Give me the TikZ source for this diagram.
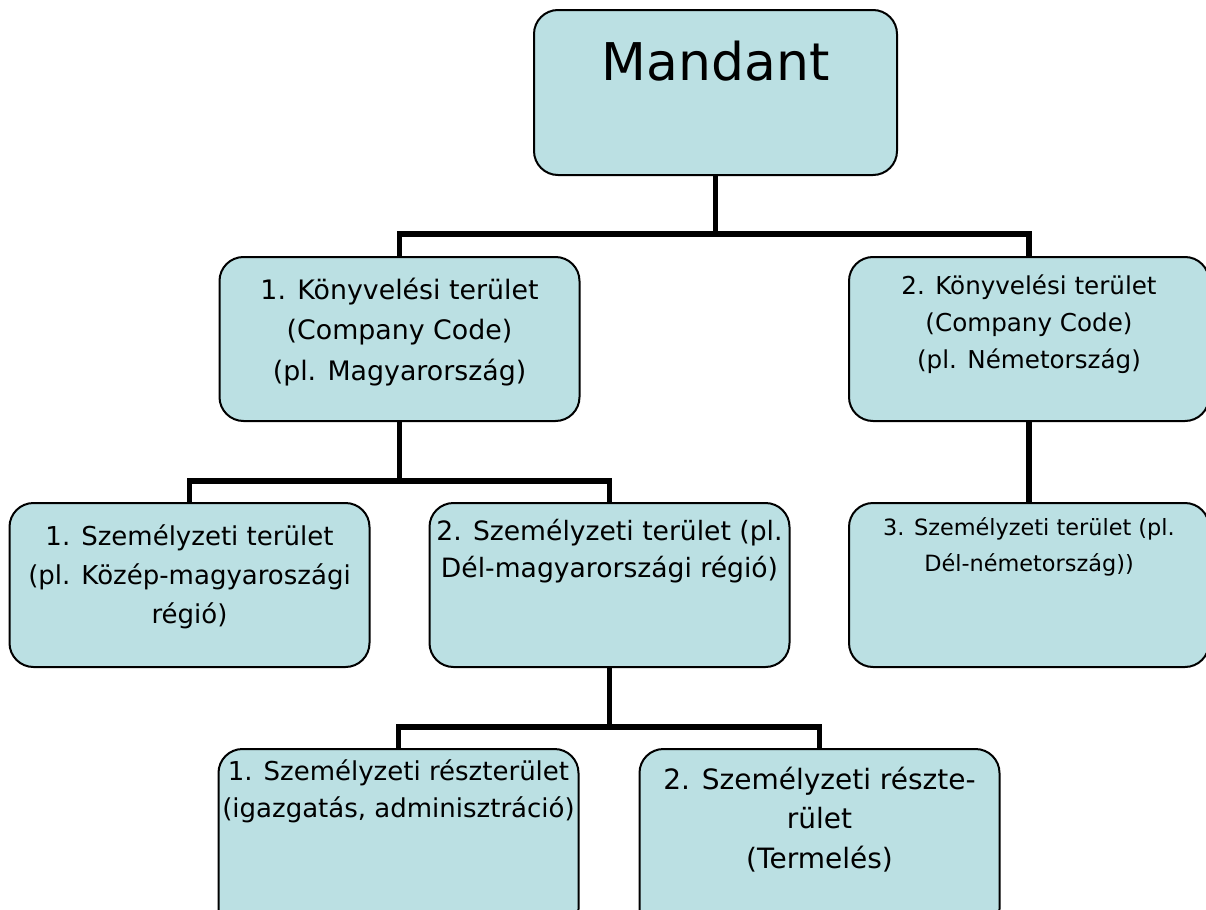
\documentclass[tikz,border=0pt]{standalone}
\usepackage{fontspec}
\setmainfont{DejaVu Sans}
\usetikzlibrary{positioning}
\definecolor{boxfill}{RGB}{187,224,227}
\newcommand{\boxlines}[1]{\begin{tabular}[t]{@{}c@{}}#1\end{tabular}}

\begin{document}
\begin{tikzpicture}[
    x=0.5pt, y=-0.5pt,
    node distance=40pt,
    orgbox/.style={rectangle, rounded corners=12pt, draw=black, line width=1pt, fill=boxfill, minimum width=180pt, minimum height=82pt, inner sep=0pt},
    firstline/.style={text height=#1, text depth={82pt-#1}},
    txt/.style 2 args={font=\fontsize{#1}{#2}\selectfont},
    link/.style={line width=2.8pt, black}
]
\useasboundingbox (0,0) rectangle (1206,910);

% Client (top)
\node[orgbox, minimum width=181.5pt, minimum height=82.5pt, text height=35pt, text depth=47.5pt, txt={26}{30}] (mandant) at (715.5,92.5) {Mandant};

% Company codes
\node[orgbox, firstline=21pt, txt={13.4}{20.25}, below=of mandant, xshift=-158pt] (cc1) {\boxlines{1. Könyvelési terület\\(Company Code)\\(pl. Magyarország)}};
\node[orgbox, firstline=18.5pt, txt={12.3}{18.5}, below=of mandant, xshift=156.75pt] (cc2) {\boxlines{2. Könyvelési terület\\(Company Code)\\(pl. Németország)}};

% Personnel areas
\node[orgbox, firstline=21pt, txt={13}{19.5}, below=of cc1, xshift=-105pt] (pa1) {\boxlines{1. Személyzeti terület\\(pl. Közép-magyaroszági\\régió)}};
\node[orgbox, firstline=18.5pt, txt={13.3}{18.5}, below=of cc1, xshift=105pt] (pa2) {\boxlines{2. Személyzeti terület (pl.\\Dél-magyarországi régió)}};
\node[orgbox, firstline=16pt, txt={11.2}{18.3}, below=of cc2] (pa3) {\boxlines{3. Személyzeti terület (pl.\\Dél-németország))}};

% Personnel subareas (run off the bottom edge)
\node[orgbox, firstline=15.5pt, text depth=76.5pt, txt={13}{18.5}, below=of pa2, xshift=-105.5pt] (sa1) {\boxlines{1. Személyzeti részterület\\(igazgatás, adminisztráció)}};
\node[orgbox, firstline=20pt, text depth=72pt, txt={14}{19.75}, below=of pa2, xshift=105pt] (sa2) {\boxlines{2. Személyzeti részte-\\rület\\(Termelés)}};

% Connectors
\coordinate (bus0) at ([yshift=-29pt]mandant.south);
\coordinate (bus1) at ([yshift=-29.5pt]cc1.south);
\coordinate (bus2) at ([yshift=-29.5pt]pa2.south);
\draw[link] (mandant.south) -- (bus0);
\draw[link] (cc1.north) |- (bus0) -| (cc2.north);
\draw[link] (cc1.south) -- (bus1);
\draw[link] (pa1.north) |- (bus1) -| (pa2.north);
\draw[link] (cc2.south) -- (pa3.north);
\draw[link] (pa2.south) -- (bus2);
\draw[link] (sa1.north) |- (bus2) -| (sa2.north);

\end{tikzpicture}
\end{document}
